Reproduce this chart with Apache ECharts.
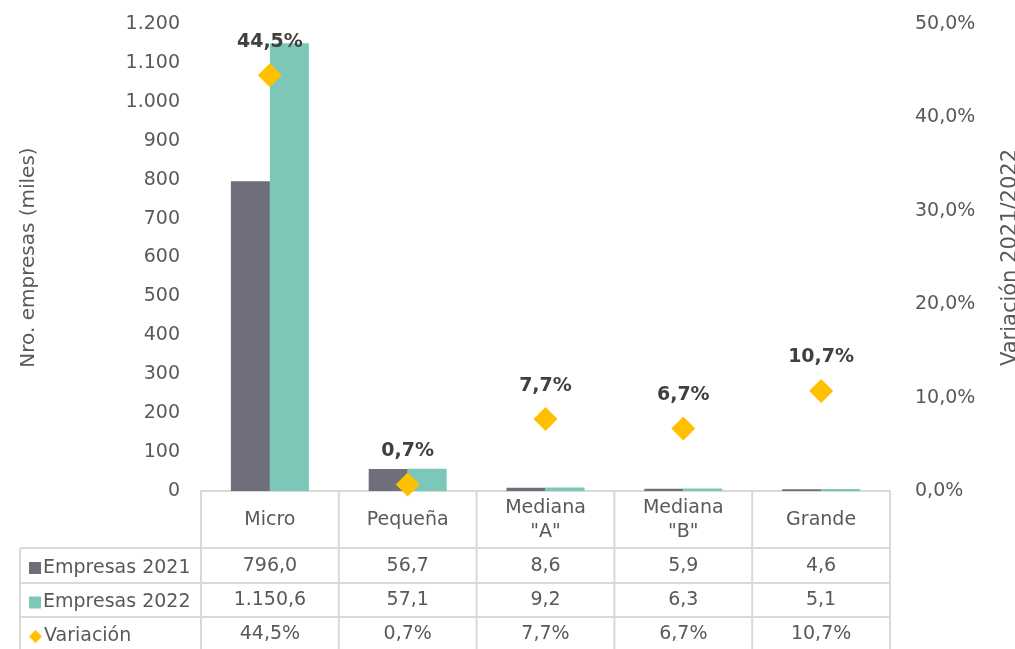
<!DOCTYPE html>
<html>
<head>
<meta charset="utf-8">
<script src="https://cdn.jsdelivr.net/npm/echarts@6/dist/echarts.min.js"></script>
<style>
  html, body { margin: 0; padding: 0; background: #fff; }
  #chart { width: 1015px; height: 649px; }
</style>
</head>
<body>
<div id="chart"></div>
<script>
// data
const categories = ['Micro', 'Pequeña', 'Mediana\n"A"', 'Mediana\n"B"', 'Grande'];
const empresas2021 = [796.0, 56.7, 8.6, 5.9, 4.6];
const empresas2022 = [1150.6, 57.1, 9.2, 6.3, 5.1];
const variacion = [0.445, 0.007, 0.077, 0.067, 0.107];
const seriesNames = ['Empresas 2021', 'Empresas 2022', 'Variación'];

const FONT = 'DejaVu Sans';
const TXT = '#595959';
const LINE = '#d9d9d9';

// es-style number formatting: 1.150,6
function fmtNum(v, dec) {
  const parts = v.toFixed(dec).split('.');
  parts[0] = parts[0].replace(/\B(?=(\d{3})+(?!\d))/g, '.');
  return parts.join(',');
}
function fmtPct(v) { return fmtNum(v * 100, 1) + '%'; }

// layout of plot + table
const W = 1015, H = 649;
const L = 201, R = 890, T = 24, B = 491;
const rowY = [548, 583, 617, 651];
const labelLeft = 20;

const chart = echarts.init(document.getElementById('chart'));

const cw = (R - L) / categories.length;
const graphics = [];
for (let i = 0; i <= categories.length; i++) {
  const x = L + i * cw;
  graphics.push({ type: 'line', shape: { x1: x, y1: B, x2: x, y2: H }, style: { stroke: LINE, lineWidth: 2 } });
}
graphics.push({ type: 'line', shape: { x1: labelLeft, y1: rowY[0], x2: labelLeft, y2: H }, style: { stroke: LINE, lineWidth: 2 } });
rowY.slice(0, 3).forEach(y => {
  graphics.push({ type: 'line', shape: { x1: labelLeft, y1: y, x2: R, y2: y }, style: { stroke: LINE, lineWidth: 2 } });
});

const tableAxis = (vals, margin) => ({
  type: 'category',
  data: vals,
  position: 'bottom',
  axisLine: { show: false },
  axisTick: { show: false },
  axisLabel: { margin: margin, verticalAlign: 'middle', color: TXT, fontSize: 19, fontFamily: FONT, interval: 0 }
});

// one legend per table row so they line up with the rows
const icons = ['rect', 'rect', 'diamond'];
const legends = seriesNames.map((name, i) => ({
  left: 24,
  top: (rowY[i] + rowY[i + 1]) / 2 - 12,
  itemWidth: i === 2 ? 13 : 12,
  itemHeight: i === 2 ? 13 : 12,
  selectedMode: false,
  textStyle: { color: TXT, fontSize: 19, fontFamily: FONT, padding: [0, 0, 0, -3] },
  data: [{ name: name, icon: icons[i] }]
}));

const option = {
  animation: false,
  textStyle: { fontFamily: FONT },
  grid: { left: L, right: W - R, top: T, bottom: H - B, outerBoundsMode: 'none', containLabel: false },
  legend: legends,
  xAxis: [
    {
      type: 'category',
      data: categories,
      axisLine: { lineStyle: { color: LINE, width: 2 } },
      axisTick: { show: false },
      axisLabel: { margin: 29, verticalAlign: 'middle', color: TXT, fontSize: 19, fontFamily: FONT, lineHeight: 24, interval: 0 }
    },
    tableAxis(empresas2021.map(v => fmtNum(v, 1)), 75),
    tableAxis(empresas2022.map(v => fmtNum(v, 1)), 109),
    tableAxis(variacion.map(fmtPct), 143)
  ],
  yAxis: [
    {
      type: 'value',
      min: 0,
      max: 1200,
      interval: 100,
      name: 'Nro. empresas (miles)',
      nameLocation: 'middle',
      nameGap: 162,
      nameTextStyle: { color: TXT, fontSize: 20, fontFamily: FONT },
      splitLine: { show: false },
      axisLine: { show: false },
      axisTick: { show: false },
      axisLabel: { margin: 21, color: TXT, fontSize: 19, fontFamily: FONT, formatter: v => fmtNum(v, 0) }
    },
    {
      type: 'value',
      min: 0,
      max: 0.5,
      interval: 0.1,
      position: 'right',
      name: 'Variación 2021/2022',
      nameLocation: 'middle',
      nameGap: 110,
      nameRotate: 90,
      nameTextStyle: { color: TXT, fontSize: 21, fontFamily: FONT },
      splitLine: { show: false },
      axisLine: { show: false },
      axisTick: { show: false },
      axisLabel: { margin: 25, color: TXT, fontSize: 19, fontFamily: FONT, formatter: v => fmtPct(v) }
    }
  ],
  series: [
    {
      name: seriesNames[0],
      type: 'bar',
      data: empresas2021,
      barWidth: 39,
      barGap: '0%',
      itemStyle: { color: '#6f6e7b' }
    },
    {
      name: seriesNames[1],
      type: 'bar',
      data: empresas2022,
      barWidth: 39,
      barGap: '0%',
      itemStyle: { color: '#7cc8b8' }
    },
    {
      name: seriesNames[2],
      type: 'scatter',
      yAxisIndex: 1,
      data: variacion,
      symbol: 'diamond',
      symbolSize: 24,
      itemStyle: { color: '#ffc000', opacity: 1 },
      label: {
        show: true,
        position: 'top',
        distance: 12,
        formatter: p => fmtPct(p.value),
        color: '#404040',
        fontWeight: 'bold',
        fontSize: 19,
        fontFamily: FONT
      },
      z: 5
    }
  ],
  graphic: graphics
};

chart.setOption(option);
</script>
</body>
</html>
